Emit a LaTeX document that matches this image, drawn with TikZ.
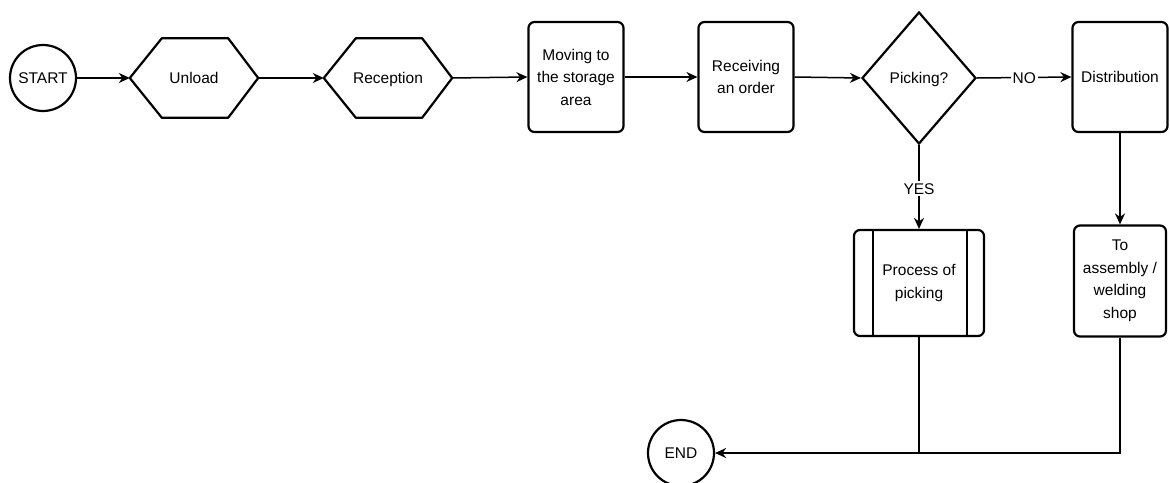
\documentclass[tikz,border=0pt]{standalone}
\usepackage{fontspec}
\setmainfont{Liberation Sans}
\usetikzlibrary{shapes.geometric,arrows.meta}
\begin{document}
\begin{tikzpicture}[x=1pt,y=-1pt,
  every node/.style={font=\fontsize{15.5}{22.5}\selectfont, align=center, inner sep=0pt},
  shapeline/.style={draw=black, line width=2.2pt},
  fixh/.style={text height=11pt, text depth=0pt},
  term/.style={shapeline, circle, minimum size=66pt, fixh},
  hexnode/.style={minimum width=128pt, minimum height=79pt, fixh},
  boxnode/.style={shapeline, rounded corners=6pt, minimum width=95pt, minimum height=110pt},
  decnode/.style={shapeline, diamond, aspect=0.86, minimum width=114pt, minimum height=132pt, fixh},
  conn/.style={draw=black, line width=1.5pt, -{Stealth[length=11pt,width=10pt]}},
  plainconn/.style={draw=black, line width=1.5pt},
  lbl/.style={fill=white, inner sep=2pt, fixh}
]
\useasboundingbox (0,0) rectangle (1170,482);

\node[term] (start) at (43,78) {START};
\node[hexnode] (unload) at (194,78) {Unload};
\node[hexnode] (recep) at (388,78) {Reception};
\node[boxnode] (move) at (576,77) {Moving to\\the storage\\area};
\node[boxnode] (recv) at (746,77) {Receiving\\an order};
\node[decnode] (pick) at (919,78) {Picking?};
\node[boxnode, fixh] (dist) at (1120,77) {Distribution};
\node[shapeline, rounded corners=6pt, minimum width=130pt, minimum height=106pt] (proc) at (919,283) {Process of\\picking};
\node[boxnode, minimum width=92pt, minimum height=111pt] (asm) at (1120,281) {To\\assembly /\\welding\\shop};
\node[term] (end) at (681,453) {END};

% hexagon outlines
\foreach \n in {unload,recep}{
  \draw[shapeline, line join=round] (\n.west) -- ([xshift=32pt]\n.north west) -- ([xshift=-30pt]\n.north east)
    -- (\n.east) -- ([xshift=-30pt]\n.south east) -- ([xshift=32pt]\n.south west) -- cycle;
}
% inner lines of predefined process
\draw[line width=2pt] ([xshift=20pt]proc.north west) -- ([xshift=20pt]proc.south west);
\draw[line width=1.5pt] ([xshift=-18pt]proc.north east) -- ([xshift=-18pt]proc.south east);

\draw[conn] (start) -- (unload.west);
\draw[conn] (unload.east) -- (recep.west);
\draw[conn] (recep.east) -- (move.west);
\draw[conn] (move.east) -- (recv.west);
\draw[conn] (recv.east) -- (pick.west);
\draw[conn] (pick.east) -- node[lbl, pos=0.5] {NO} (dist.west);
\draw[conn] (pick.south) -- node[lbl, pos=0.52] {YES} (proc.north);
\draw[conn] (dist.south) -- (asm.north);
\coordinate (join) at (proc.south |- end.east);
\draw[plainconn] (proc.south) -- (join);
\draw[conn] (asm.south) |- (end.east);
\end{tikzpicture}
\end{document}
